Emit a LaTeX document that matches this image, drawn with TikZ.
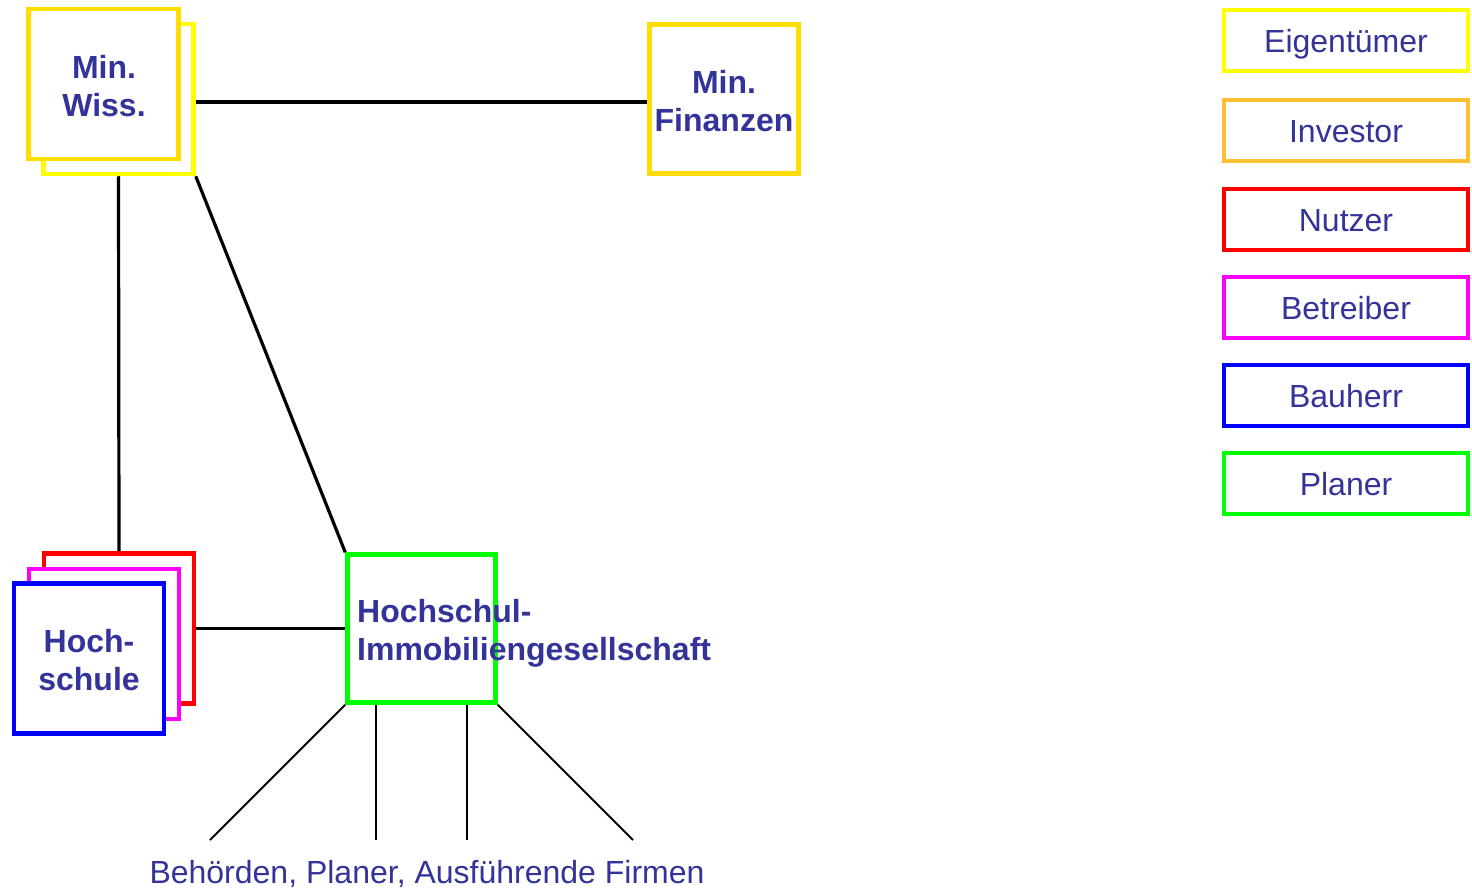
\documentclass[tikz,border=0pt]{standalone}
\usepackage{fontspec}
\setmainfont{Liberation Sans}
\definecolor{txt}{HTML}{333399}
\definecolor{ownerY}{HTML}{FFFF00}
\definecolor{ministry}{HTML}{FFDD00}
\definecolor{investor}{HTML}{FFC133}
\definecolor{userR}{HTML}{FF0000}
\definecolor{operator}{HTML}{FF00FF}
\definecolor{builder}{HTML}{0000FF}
\definecolor{planner}{HTML}{00FF00}
\tikzset{
  box/.style={draw=#1, line width=4.5pt, fill=white, minimum width=150pt, minimum height=150pt, inner sep=0pt},
  boxlabel/.style={text=txt, font=\fontsize{32}{38}\selectfont\bfseries, align=center, inner sep=0pt},
  legend/.style={draw=#1, line width=4pt, fill=white, minimum width=244pt, minimum height=61pt, inner sep=0pt,
    text height=30pt, text depth=6pt, text=txt, font=\fontsize{32}{38}\selectfont},
  link/.style={line width=3.2pt, black},
  thinlink/.style={line width=1.8pt, black},
}
\begin{document}
\begin{tikzpicture}[x=1pt, y=-1pt]
\useasboundingbox (0,0) rectangle (1472,888);

% ministries
\node[box=ownerY] (wissB) at (118.5,99) {};
\node[box=ministry] (wiss) at (103.5,84) {};
\node[boxlabel] (wissT) at (104,86) {Min.\\Wiss.};
\node[box=ministry, minimum width=149pt, minimum height=149pt] (fin) at (724,99) {};
\node[boxlabel] (finT) at (724,101) {Min.\\Finanzen};

% university: user, operator, builder
\node[box=userR] (hsR) at (119,628.5) {};
\node[box=operator] (hsM) at (104,644) {};
\node[box=builder] (hsB) at (89,658.5) {};
\node[boxlabel] (hsT) at (89,660) {Hoch-\\schule};

% real estate company
\node[box=planner, minimum width=148pt, minimum height=148pt, fill=none] (hig) at (421.5,628.5) {};
\node[boxlabel, align=left, anchor=west] (higT) at (357,633) {Hochschul-\\Immobiliengesellschaft};

% connections
\draw[link] ([yshift=-3pt]wissB.east) -- ([yshift=-3pt]fin.west);
\draw[link] (wissB.south) -- (hsR.north);
\draw[link] (wissB.south east) -- (hig.north west);
\draw[link] (hsR.east) -- (hig.west);

% contractors
\coordinate (b1) at (210,840);
\coordinate (b2) at (376,840);
\coordinate (b3) at (467,840);
\coordinate (b4) at (633,840);
\draw[thinlink] (hig.south west) -- (b1);
\draw[thinlink] ([xshift=-45.5pt]hig.south) -- (b2);
\draw[thinlink] ([xshift=45.5pt]hig.south) -- (b3);
\draw[thinlink] (hig.south east) -- (b4);
\node[text=txt, font=\fontsize{32}{38}\selectfont, inner sep=0pt] (firms) at (427,874) {Behörden, Planer, Ausführende Firmen};

% legend
\node[legend=ownerY] (l1) at (1346,40.5) {Eigentümer};
\node[legend=investor] (l2) at (1346,130.5) {Investor};
\node[legend=userR] (l3) at (1346,219) {Nutzer};
\node[legend=operator] (l4) at (1346,307) {Betreiber};
\node[legend=builder] (l5) at (1346,395) {Bauherr};
\node[legend=planner] (l6) at (1346,483) {Planer};
\end{tikzpicture}
\end{document}
